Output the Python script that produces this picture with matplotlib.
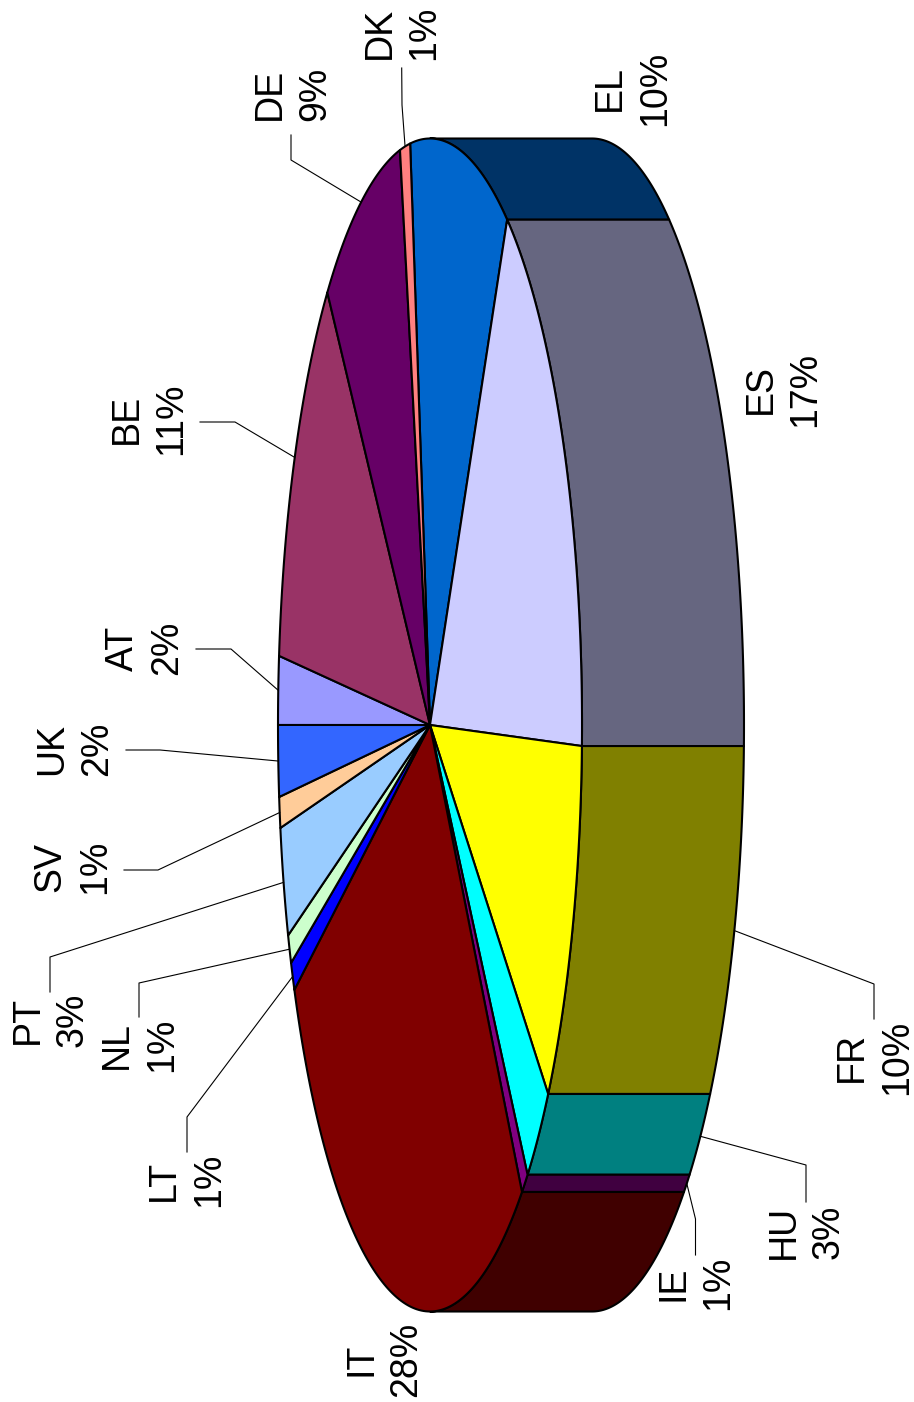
import numpy as np
import matplotlib
matplotlib.use('Agg')
import matplotlib.pyplot as plt
from matplotlib.colors import to_rgb

# clockwise on the page, starting from EL
countries = ["EL", "ES", "FR", "HU", "IE", "IT", "LT", "NL", "PT", "SV", "UK", "AT", "BE", "DE", "DK"]
shares = [10.56, 17.10, 10.26, 3.08, 0.75, 27.89, 0.81, 0.81, 3.03, 0.85, 1.96, 1.88, 11.32, 8.64, 1.08]
percent_labels = ["10%", "17%", "10%", "3%", "1%", "28%", "1%", "1%", "3%", "1%", "2%", "2%", "11%", "9%", "1%"]
colors = ["#0066CC", "#CCCCFF", "#FFFF00", "#00FFFF", "#800080", "#800000", "#0000FF", "#CCFFCC",
          "#99CCFF", "#FFCC99", "#3366FF", "#9999FF", "#993366", "#660066", "#FF8080"]

plt.rcParams['font.family'] = ['Liberation Sans', 'DejaVu Sans']

# page layout, in pixels
cx, cy = 430, 725
rx, ry = 152, 586.5
depth = 162
start_angle = -97.5

label_pos = {"EL": (632.5, 88), "ES": (783, 389), "FR": (874.5, 1057), "HU": (806.5, 1232), "IE": (695.5, 1283),
             "IT": (383.5, 1359), "LT": (186.5, 1180), "NL": (139.5, 1045), "PT": (50, 1020), "SV": (73, 867),
             "UK": (75, 749), "AT": (145, 648), "BE": (149, 419), "DE": (292.5, 94), "DK": (402, 33)}
# leader line: start next to the label, then the elbow
leader_pos = {"FR": [(874, 1019), (874, 984)], "HU": [(806, 1202), (806, 1165)], "IE": [(695.5, 1255), (695.5, 1219)],
              "LT": [(187, 1152), (187, 1117)], "NL": [(139, 1017), (139, 983)], "PT": [(50, 992), (50, 957)],
              "SV": [(124, 870), (158, 870)], "UK": [(126, 750), (160, 750)], "AT": [(196, 649), (231, 649)],
              "BE": [(200, 422), (235, 422)], "DE": [(291, 135), (291, 160)], "DK": [(401.7, 68), (402, 105)]}


def rim(angles, shift=0):
    t = np.radians(angles)
    return cx + shift + rx * np.cos(t), cy + ry * np.sin(t)


fig = plt.figure(figsize=(9.14, 14.02), dpi=100)
ax = fig.add_axes([0, 0, 1, 1])
ax.set_xlim(0, 914)
ax.set_ylim(1402, 0)
ax.axis('off')

edges = start_angle + np.cumsum([0] + shares) * 360.0 / sum(shares)

# side wall first, only the part of the rim that faces the viewer
for i, name in enumerate(countries):
    a0, a1 = max(edges[i], -90), min(edges[i + 1], 90)
    if a1 <= a0:
        continue
    tt = np.linspace(a0, a1, 80)
    x1, y1 = rim(tt)
    x2, y2 = rim(tt[::-1], depth)
    wall = tuple(c * 0.5 for c in to_rgb(colors[i]))
    ax.fill(np.r_[x1, x2], np.r_[y1, y2], facecolor=wall, edgecolor='black', linewidth=1.5, joinstyle='round')

# top face
for i, name in enumerate(countries):
    tt = np.linspace(edges[i], edges[i + 1], 120)
    x1, y1 = rim(tt)
    ax.fill(np.r_[cx, x1], np.r_[cy, y1], facecolor=colors[i], edgecolor='black', linewidth=1.5, joinstyle='round')

for i, name in enumerate(countries):
    x, y = label_pos[name]
    ax.text(x, y, name + "\n" + percent_labels[i], rotation=90, ha='center', va='center',
            multialignment='center', fontsize=27, color='black', linespacing=1.32)
    if name in leader_pos:
        mid = (edges[i] + edges[i + 1]) / 2
        shift = depth if np.cos(np.radians(mid)) > 0 else 0
        ex, ey = rim(mid, shift)
        pts = leader_pos[name] + [(ex, ey)]
        ax.plot([p[0] for p in pts], [p[1] for p in pts], color='black', linewidth=0.8, zorder=1)

fig.savefig("out.png", dpi=100)
